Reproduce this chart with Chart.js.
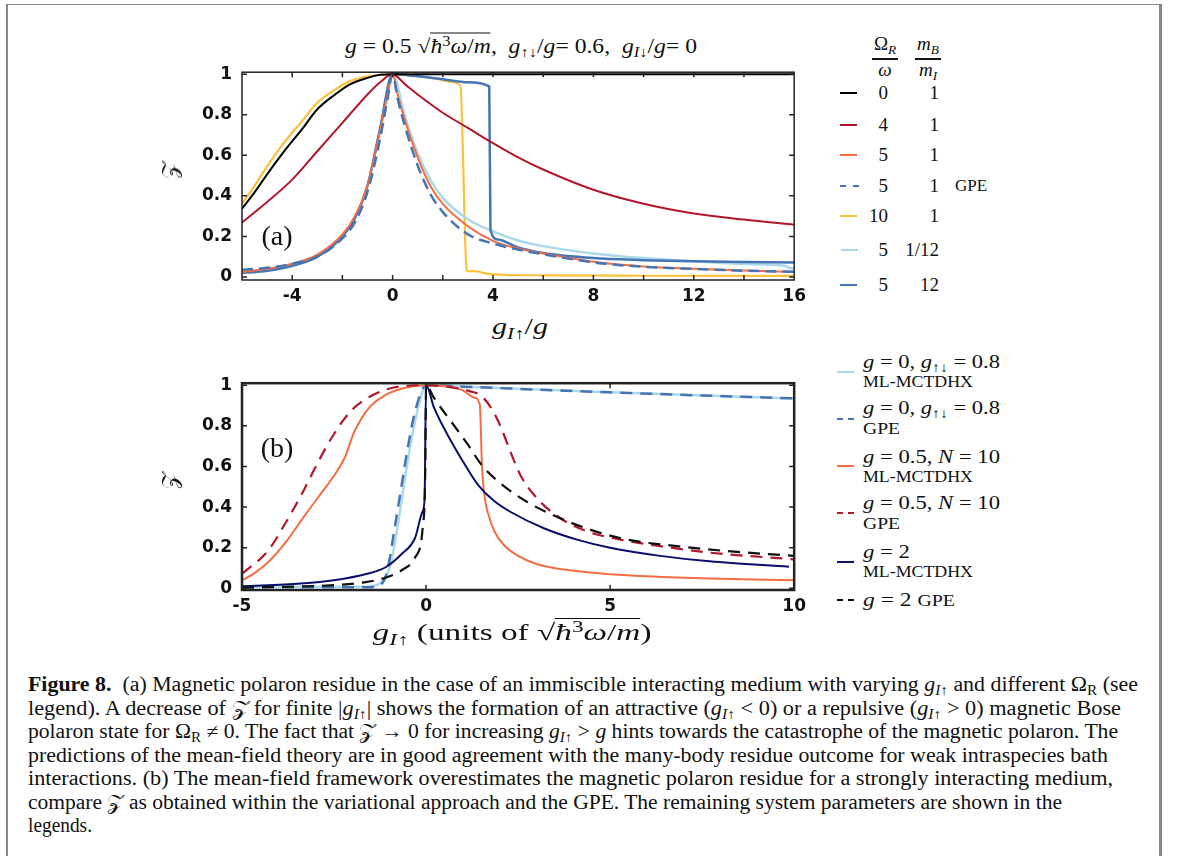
<!DOCTYPE html>
<html>
<head>
<meta charset="utf-8">
<script src="https://cdn.jsdelivr.net/npm/chart.js@4.4.1/dist/chart.umd.min.js"></script>
<style>
  body { margin: 0; width: 1179px; height: 856px; background: #fff; position: relative; overflow: hidden;
         font-family: "Liberation Serif", "DejaVu Serif", serif; color: #111; }
  .box { position: absolute; left: 6px; top: 4px; width: 1151px; height: 900px;
         border-left: 2px solid #888; border-top: 1px solid #888; border-right: 3px solid #888; }
  .c { position: absolute; white-space: nowrap; transform: translate(-50%, -50%); }
  .l { position: absolute; white-space: nowrap; transform: translateY(-50%); transform-origin: left center; }
  canvas { position: absolute; }
  i { font-style: italic; }
  sub { font-size: 70%; vertical-align: -0.3em; line-height: 0; }
  sup { font-size: 70%; vertical-align: 0.5em; line-height: 0; }
  .sq { border-top: 1px solid #111; padding-top: 1px; }
  .sw { position: absolute; width: 17px; height: 0; }
  .leg { font-size: 19px; }
  .leg2 { font-size: 16px; }
  .bar { position: absolute; height: 1.5px; background: #111; }
  .cap { position: absolute; left: 28px; font-size: 20px; white-space: nowrap; transform-origin: left center; }
  .ylab { font-size: 22px; transform: translate(-50%, -50%) rotate(-90deg); }
</style>
</head>
<body>
<div class="box"></div>

<!-- panel (a) -->
<div class="c" data-w="352" style="left:521px;top:46px;font-size:20px"><i>g</i> = 0.5 √<span class="sq"><i>ħ</i><sup>3</sup><i>ω</i>/<i>m</i></span>,&nbsp; <i>g</i><sub>↑↓</sub>/<i>g</i>= 0.6,&nbsp; <i>g</i><sub><i>I</i>↓</sub>/<i>g</i>= 0</div>
<canvas id="chartA" width="662" height="258" style="left:150px;top:52px"></canvas>
<div class="c ylab" style="left:170px;top:170px">𝒵</div>
<div class="c" data-w="56" style="left:520px;top:327px;font-size:23px"><i>g</i><sub><i>I</i>↑</sub>/<i>g</i></div>
<div class="c" style="left:277px;top:236px;font-size:28px">(a)</div>

<!-- legend (a) -->
<div class="c leg" style="left:885px;top:44px">Ω<sub><i>R</i></sub></div>
<div class="bar" style="left:872px;top:58px;width:26px"></div>
<div class="c leg" style="left:885px;top:70px"><i>ω</i></div>
<div class="c leg" style="left:928px;top:44px"><i>m</i><sub><i>B</i></sub></div>
<div class="bar" style="left:915px;top:58px;width:26px"></div>
<div class="c leg" style="left:928px;top:70px"><i>m</i><sub><i>I</i></sub></div>

<div class="sw" style="left:840px;top:92px;border-top:2.5px solid #000"></div>
<div class="l leg" style="right:291px;top:93px">0</div><div class="l leg" style="right:240px;top:93px">1</div>
<div class="sw" style="left:840px;top:124px;border-top:2.5px solid #b2182b"></div>
<div class="l leg" style="right:291px;top:125px">4</div><div class="l leg" style="right:240px;top:125px">1</div>
<div class="sw" style="left:840px;top:154px;border-top:2.5px solid #f46d43"></div>
<div class="l leg" style="right:291px;top:155px">5</div><div class="l leg" style="right:240px;top:155px">1</div>
<div class="sw" style="left:840px;top:185px;width:19px;border-top:2.5px dashed #4575b4"></div>
<div class="l leg" style="right:291px;top:186px">5</div><div class="l leg" style="right:240px;top:186px">1</div>
<div class="l" style="left:955px;top:186px;font-size:17px">GPE</div>
<div class="sw" style="left:840px;top:215px;border-top:2.5px solid #fcc13c"></div>
<div class="l leg" style="right:291px;top:216px">10</div><div class="l leg" style="right:240px;top:216px">1</div>
<div class="sw" style="left:841px;top:249px;border-top:2.5px solid #abd9e9"></div>
<div class="l leg" style="right:291px;top:250px">5</div><div class="l leg" style="right:240px;top:250px">1/12</div>
<div class="sw" style="left:840px;top:284px;border-top:2.5px solid #4575b4"></div>
<div class="l leg" style="right:291px;top:285px">5</div><div class="l leg" style="right:240px;top:285px">12</div>

<!-- panel (b) -->
<canvas id="chartB" width="662" height="257" style="left:150px;top:363px"></canvas>
<div class="c ylab" style="left:170px;top:480px">𝒵</div>
<div class="c" data-w="279" style="left:512px;top:633px;font-size:23px"><i>g</i><sub><i>I</i>↑</sub> (units of √<span class="sq"><i>ħ</i><sup>3</sup><i>ω</i>/<i>m</i></span>)</div>
<div class="c" style="left:277px;top:448px;font-size:28px">(b)</div>

<!-- legend (b) -->
<div class="sw" style="left:837px;top:371px;border-top:2.5px solid #abd9e9"></div>
<div class="l leg" data-w="137" style="left:863px;top:362px"><i>g</i> = 0, <i>g</i><sub>↑↓</sub> = 0.8</div>
<div class="l leg2" data-w="110" style="left:863px;top:382px">ML-MCTDHX</div>
<div class="sw" style="left:837px;top:418px;border-top:2.5px dashed #4575b4"></div>
<div class="l leg" data-w="137" style="left:863px;top:408px"><i>g</i> = 0, <i>g</i><sub>↑↓</sub> = 0.8</div>
<div class="l leg2" data-w="37" style="left:863px;top:429px">GPE</div>
<div class="sw" style="left:837px;top:465px;border-top:2.5px solid #f46d43"></div>
<div class="l leg" data-w="137" style="left:863px;top:457px"><i>g</i> = 0.5, <i>N</i> = 10</div>
<div class="l leg2" data-w="110" style="left:863px;top:477px">ML-MCTDHX</div>
<div class="sw" style="left:837px;top:512px;border-top:2.5px dashed #b2182b"></div>
<div class="l leg" data-w="137" style="left:863px;top:503px"><i>g</i> = 0.5, <i>N</i> = 10</div>
<div class="l leg2" data-w="37" style="left:863px;top:524px">GPE</div>
<div class="sw" style="left:837px;top:561px;border-top:2.5px solid #0b0f6b"></div>
<div class="l leg" data-w="47" style="left:863px;top:552px"><i>g</i> = 2</div>
<div class="l leg2" data-w="110" style="left:863px;top:572px">ML-MCTDHX</div>
<div class="sw" style="left:837px;top:599px;border-top:2.5px dashed #111"></div>
<div class="l leg" data-w="92" style="left:863px;top:600px"><i>g</i> = 2 <span style="font-size:16px">GPE</span></div>

<!-- caption -->
<div class="cap" data-w="1110" style="top:684px"><b>Figure 8.</b>&nbsp; (a) Magnetic polaron residue in the case of an immiscible interacting medium with varying <i>g</i><sub><i>I</i>↑</sub> and different Ω<sub>R</sub> (see</div>
<div class="cap" data-w="1093" style="top:707.5px">legend). A decrease of 𝒵 for finite |<i>g</i><sub><i>I</i>↑</sub>| shows the formation of an attractive (<i>g</i><sub><i>I</i>↑</sub> &lt; 0) or a repulsive (<i>g</i><sub><i>I</i>↑</sub> &gt; 0) magnetic Bose</div>
<div class="cap" data-w="1090" style="top:731px">polaron state for Ω<sub>R</sub> ≠ 0. The fact that 𝒵 → 0 for increasing <i>g</i><sub><i>I</i>↑</sub> &gt; <i>g</i> hints towards the catastrophe of the magnetic polaron. The</div>
<div class="cap" data-w="1080" style="top:754.5px">predictions of the mean-field theory are in good agreement with the many-body residue outcome for weak intraspecies bath</div>
<div class="cap" data-w="1085" style="top:778px">interactions. (b) The mean-field framework overestimates the magnetic polaron residue for a strongly interacting medium,</div>
<div class="cap" data-w="1034" style="top:801.5px">compare 𝒵 as obtained within the variational approach and the GPE. The remaining system parameters are shown in the</div>
<div class="cap" data-w="64" style="top:825px">legends.</div>

<script>
// ---------- panel (a) data ----------
const aXTicks = [-4, 0, 4, 8, 12, 16];
const aXMarks = [-4, -2, 0, 2, 4, 6, 8, 10, 12, 14];
const yTicks = [0, 0.2, 0.4, 0.6, 0.8, 1];

const aBlackX = [-6, -5.5, -5, -4.3, -3.6, -3, -2.3, -1.7, -1, -0.5, 0, 4, 8, 12, 16];
const aBlackY = [0.337, 0.417, 0.506, 0.623, 0.73, 0.827, 0.899, 0.95, 0.982, 0.997, 1, 1, 1, 1, 1];

const aRedX = [-6, -5, -4, -3, -2, -1, -0.5, 0, 0.5, 1, 2, 3, 4, 5, 6, 8, 10, 12, 14, 16];
const aRedY = [0.268, 0.37, 0.48, 0.62, 0.76, 0.9, 0.96, 1, 0.95, 0.9, 0.81, 0.735, 0.66, 0.59, 0.53, 0.43, 0.361, 0.313, 0.283, 0.258];

const aOrangeX = [-6, -5, -4, -3, -2, -1.5, -1, -0.5, -0.2, 0, 0.2, 0.5, 1, 1.5, 2, 3, 4, 5, 6, 8, 10, 12, 14, 16];
const aOrangeY = [0.025, 0.04, 0.065, 0.11, 0.21, 0.3, 0.45, 0.72, 0.9, 1, 0.9, 0.77, 0.59, 0.45, 0.36, 0.25, 0.178, 0.14, 0.116, 0.075, 0.052, 0.04, 0.032, 0.025];

const aGpeX = [-6, -5, -4, -3, -2, -1.5, -1, -0.5, -0.2, 0, 0.2, 0.5, 1, 1.5, 2, 3, 4, 5, 6, 8, 10, 12, 14, 16];
const aGpeY = [0.035, 0.045, 0.065, 0.1, 0.19, 0.27, 0.42, 0.68, 0.88, 1, 0.88, 0.74, 0.55, 0.41, 0.32, 0.21, 0.165, 0.135, 0.112, 0.072, 0.05, 0.04, 0.031, 0.025];

const aYellowX = [-6, -5.5, -5, -4.3, -3.6, -3, -2.3, -1.7, -1, 0, 1, 1.7, 2.3, 2.7, 2.95, 3.0, 3.4, 3.6, 4, 6, 10, 16];
const aYellowY = [0.361, 0.449, 0.546, 0.666, 0.77, 0.859, 0.923, 0.966, 0.99, 1, 0.99, 0.979, 0.963, 0.944, 0.035, 0.029, 0.027, 0.02, 0.013, 0.008, 0.006, 0.005];

const aLightX = [-6, -5, -4, -3, -2, -1.5, -1, -0.5, 0, 0.5, 1, 1.5, 2, 3, 4, 5, 6, 8, 10, 12, 14, 15.6, 15.8, 16];
const aLightY = [0.02, 0.03, 0.055, 0.1, 0.2, 0.29, 0.45, 0.73, 1, 0.79, 0.61, 0.48, 0.39, 0.285, 0.225, 0.18, 0.152, 0.116, 0.093, 0.077, 0.064, 0.056, 0.045, 0.04];

const aBlueX = [-6, -5, -4, -3, -2, -1.5, -1, -0.5, 0, 1, 2, 3, 3.85, 3.9, 4.2, 5, 6, 8, 10, 12, 14, 16];
const aBlueY = [0.02, 0.03, 0.055, 0.1, 0.2, 0.29, 0.45, 0.73, 1, 0.99, 0.975, 0.96, 0.94, 0.233, 0.185, 0.145, 0.118, 0.093, 0.083, 0.077, 0.074, 0.071];

// ---------- panel (b) data ----------
const bXTicks = [-5, 0, 5, 10];
const bXMarks = [0, 5];

const bLightX = [-5, -2, -1.5, -1.2, -1.1, -0.95, -0.75, -0.6, -0.4, -0.2, 0, 1, 5, 10];
const bLightY = [0.008, 0.008, 0.01, 0.03, 0.05, 0.13, 0.33, 0.51, 0.73, 0.9, 1, 0.993, 0.965, 0.935];

const bGpeBlueX = [-5, -1.5, -1.2, -1.05, -0.85, -0.67, -0.49, -0.27, 0, 1, 5, 10];
const bGpeBlueY = [0.005, 0.006, 0.024, 0.09, 0.3, 0.5, 0.7, 0.89, 1, 0.993, 0.965, 0.935];

const bOrangeX = [-5, -4.7, -4.25, -3.8, -3.35, -2.9, -2.45, -2.2, -1.95, -1.55, -1.1, -0.65, 0, 0.5, 1, 1.3, 1.46, 1.52, 1.6, 1.7, 1.86, 2.1, 2.5, 3, 3.7, 5, 6.4, 7.7, 10];
const bOrangeY = [0.04, 0.07, 0.136, 0.23, 0.345, 0.456, 0.568, 0.648, 0.77, 0.888, 0.952, 0.984, 1, 0.995, 0.975, 0.94, 0.904, 0.6, 0.44, 0.36, 0.28, 0.216, 0.16, 0.12, 0.094, 0.069, 0.056, 0.048, 0.04];

const bGpeRedX = [-5, -4.3, -3.85, -3.4, -2.95, -2.5, -2.05, -1.6, -1.13, -0.67, 0, 0.67, 1.2, 1.48, 1.77, 2.04, 2.31, 2.58, 3.03, 3.66, 4.38, 5.28, 6.36, 7.7, 10];
const bGpeRedY = [0.072, 0.184, 0.312, 0.456, 0.616, 0.76, 0.872, 0.936, 0.976, 0.995, 1, 0.99, 0.97, 0.95, 0.888, 0.79, 0.664, 0.552, 0.44, 0.344, 0.28, 0.24, 0.208, 0.176, 0.143];

const bNavyX = [-5, -3.4, -2.5, -1.6, -1.1, -0.67, -0.3, -0.1, -0.04, 0, 0.22, 0.67, 1.12, 1.41, 1.85, 2.3, 3.2, 4.1, 5, 6.36, 7.7, 9.86];
const bNavyY = [0.011, 0.024, 0.04, 0.072, 0.104, 0.168, 0.248, 0.376, 0.44, 1, 0.888, 0.728, 0.59, 0.51, 0.43, 0.376, 0.296, 0.24, 0.2, 0.16, 0.133, 0.107];

const bGpeBlackX = [-5, -2.5, -1.6, -1.1, -0.67, -0.3, -0.09, -0.02, 0, 0.22, 0.67, 1.12, 1.5, 1.95, 2.76, 3.66, 4.56, 5.46, 6.81, 8.15, 10];
const bGpeBlackY = [0.004, 0.016, 0.032, 0.053, 0.088, 0.152, 0.3, 0.6, 1, 0.936, 0.824, 0.712, 0.61, 0.528, 0.424, 0.344, 0.283, 0.24, 0.208, 0.184, 0.16];

function pts(xs, ys) {
  return xs.map((x, i) => ({ x: x, y: ys[i] }));
}

function series(xs, ys, color, dash, width) {
  return {
    data: pts(xs, ys),
    borderColor: color,
    borderWidth: width || 2,
    borderDash: dash || [],
    pointRadius: 0,
    fill: false,
    cubicInterpolationMode: "monotone",
  };
}

// frame + inward tick marks on all four sides
const frameTicks = {
  id: "frameTicks",
  afterDatasetsDraw(chart, args, opts) {
    const { ctx, chartArea: a, scales } = chart;
    const L = 5;
    ctx.save();
    ctx.strokeStyle = "#222";
    ctx.lineWidth = 1.5;
    ctx.beginPath();
    opts.xMarks.forEach((v) => {
      const px = scales.x.getPixelForValue(v);
      ctx.moveTo(px, a.bottom); ctx.lineTo(px, a.bottom - L);
      ctx.moveTo(px, a.top); ctx.lineTo(px, a.top + L);
    });
    yTicks.forEach((v) => {
      const py = scales.y.getPixelForValue(v);
      ctx.moveTo(a.left, py); ctx.lineTo(a.left + L, py);
      ctx.moveTo(a.right, py); ctx.lineTo(a.right - L, py);
    });
    ctx.stroke();
    ctx.lineWidth = opts.frameWidth;
    ctx.strokeRect(a.left, a.top, a.right - a.left, a.bottom - a.top);
    ctx.restore();
  },
};

const tickFont = { family: "DejaVu Sans", weight: "bold", size: 17 };

function makeOptions(xMin, xMax, xLabels, yMin, yMax, xMarks, frameWidth) {
  return {
    responsive: false,
    animation: false,
    layout: { padding: { top: 15, right: 15, left: 0, bottom: 0 } },
    plugins: {
      legend: { display: false },
      tooltip: { enabled: false },
      frameTicks: { xMarks: xMarks, frameWidth: frameWidth },
    },
    scales: {
      x: {
        type: "linear",
        min: xMin,
        max: xMax,
        afterBuildTicks: (s) => { s.ticks = xLabels.map((v) => ({ value: v })); },
        afterFit: (s) => { s.height = 30; },
        grid: { display: false, drawTicks: false },
        border: { display: false },
        ticks: { font: tickFont, color: "#111", padding: 6, maxRotation: 0, autoSkip: false,
                 callback: (v) => String(v) },
      },
      y: {
        min: yMin,
        max: yMax,
        afterBuildTicks: (s) => { s.ticks = yTicks.map((v) => ({ value: v })); },
        afterFit: (s) => { s.width = 92; },
        grid: { display: false, drawTicks: false },
        border: { display: false },
        ticks: { font: tickFont, color: "#111", padding: 10, autoSkip: false,
                 callback: (v) => String(v) },
      },
    },
  };
}

// first dataset is drawn on top
new Chart(document.getElementById("chartA"), {
  type: "line",
  data: {
    datasets: [
      series(aGpeX, aGpeY, "#4575b4", [11, 6], 2.5),
      series(aBlackX, aBlackY, "#000000"),
      series(aRedX, aRedY, "#b2182b"),
      series(aOrangeX, aOrangeY, "#f46d43"),
      series(aBlueX, aBlueY, "#4575b4", [], 2.5),
      series(aLightX, aLightY, "#abd9e9", [], 2.5),
      series(aYellowX, aYellowY, "#fcc13c", [], 2.2),
    ],
  },
  options: makeOptions(-6, 16, aXTicks, -0.015, 1.01, aXMarks, 1.5),
  plugins: [frameTicks],
});

new Chart(document.getElementById("chartB"), {
  type: "line",
  data: {
    datasets: [
      series(bGpeBlackX, bGpeBlackY, "#111111", [12, 8], 2.2),
      series(bNavyX, bNavyY, "#0b0f6b"),
      series(bGpeRedX, bGpeRedY, "#b2182b", [12, 8], 2.2),
      series(bOrangeX, bOrangeY, "#f46d43"),
      series(bGpeBlueX, bGpeBlueY, "#4575b4", [12, 8], 2.5),
      series(bLightX, bLightY, "#abd9e9", [], 2.5),
    ],
  },
  options: makeOptions(-5, 10, bXTicks, -0.008, 1.01, bXMarks, 2.5),
  plugins: [frameTicks],
});

// stretch text runs to the widths they have in the figure
document.querySelectorAll("[data-w]").forEach((el) => {
  const w = el.getBoundingClientRect().width;
  const k = Number(el.dataset.w) / w;
  if (el.classList.contains("c")) {
    el.style.transform = "translate(-50%, -50%) scaleX(" + k + ")";
  } else {
    el.style.transformOrigin = "left center";
    el.style.transform = "translateY(-50%) scaleX(" + k + ")";
  }
});
</script>
</body>
</html>
